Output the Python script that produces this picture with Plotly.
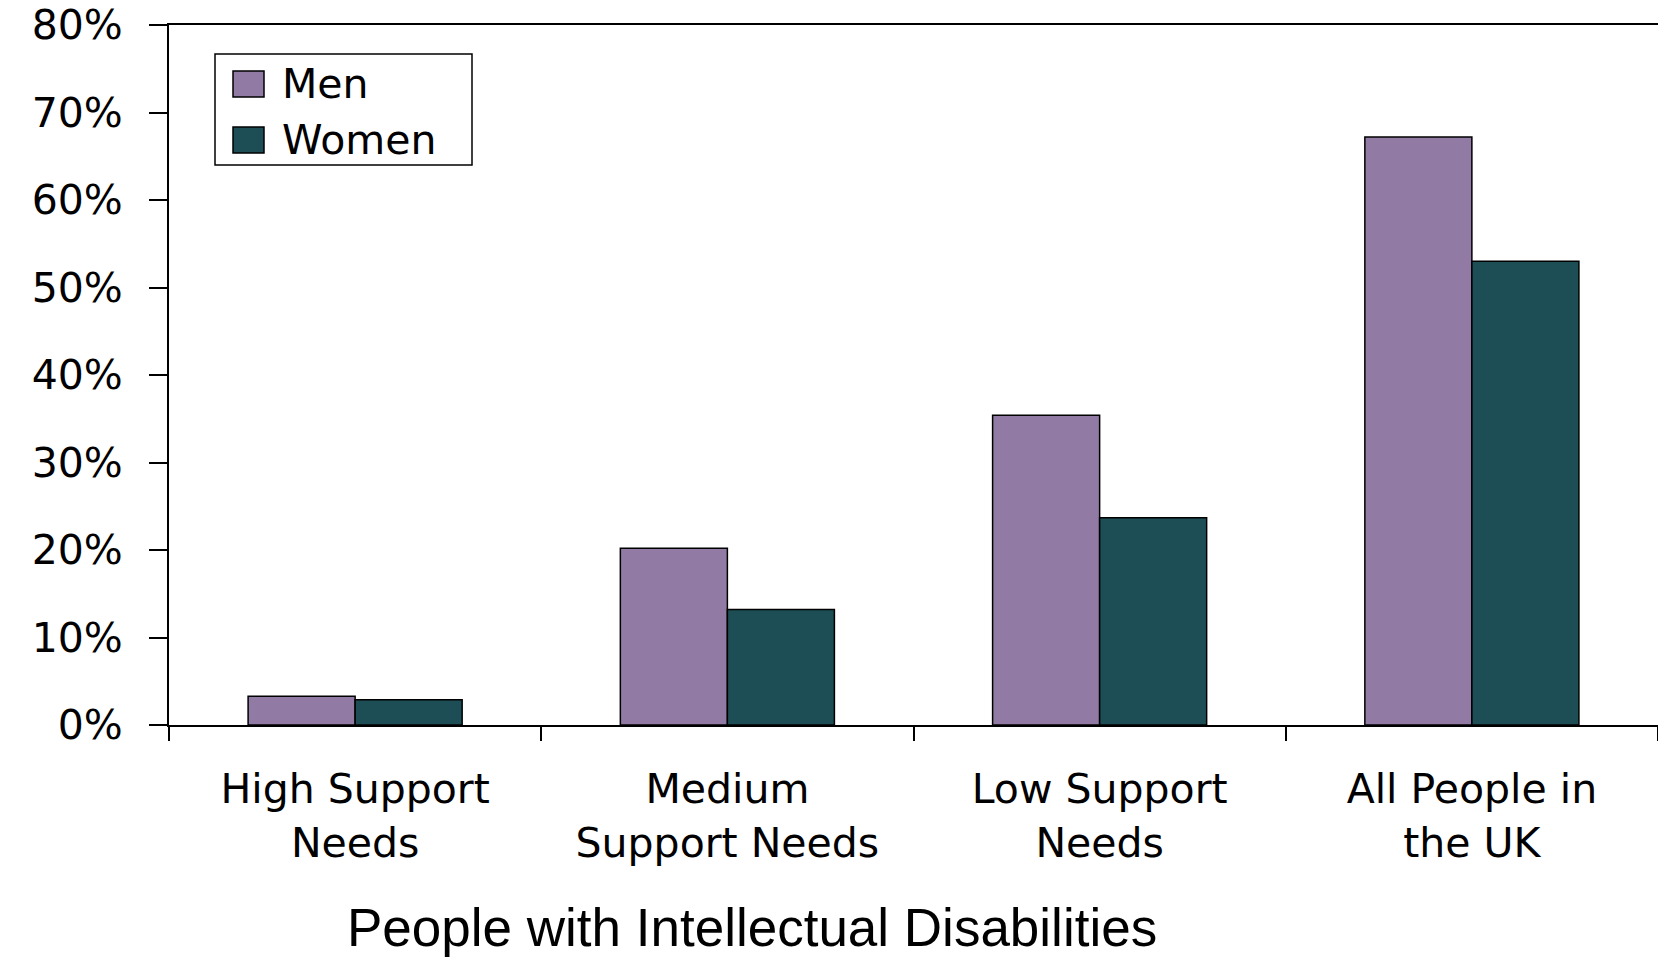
import plotly.graph_objects as go

categories = ["High Support<br>Needs", "Medium<br>Support Needs", "Low Support<br>Needs", "All People in<br>the UK"]
men = [3.3, 20.2, 35.4, 67.2]
women = [2.9, 13.2, 23.7, 53.0]
series_names = ["Men", "Women"]
y_ticks = [0, 10, 20, 30, 40, 50, 60, 70, 80]
y_tick_labels = [f"{v}%" for v in y_ticks]
x_title = "People with Intellectual Disabilities"

MEN_COLOR = "#917ba4"
WOMEN_COLOR = "#1e4e55"

W, H = 1658, 958
L, R, T, B = 169, 0, 25, 233
PW, PH = W - L - R, H - T - B

def px(x):
    return (x - L) / PW

def py(y):
    return (H - B - y) / PH

fig = go.Figure()
fig.add_trace(go.Bar(x=categories, y=men, name=series_names[0],
                     marker=dict(color=MEN_COLOR, line=dict(color="black", width=1.5)),
                     showlegend=False))
fig.add_trace(go.Bar(x=categories, y=women, name=series_names[1],
                     marker=dict(color=WOMEN_COLOR, line=dict(color="black", width=1.5)),
                     showlegend=False))

tick_font = dict(family="DejaVu Sans", size=41, color="black")

fig.update_layout(
    width=W, height=H,
    margin=dict(l=L, r=R, t=T, b=B, pad=0),
    paper_bgcolor="white", plot_bgcolor="white",
    barmode="group", bargap=0.425, bargroupgap=0,
    xaxis=dict(
        showline=True, linecolor="black", linewidth=2, mirror=True,
        ticks="outside", tickson="boundaries", ticklen=14, tickwidth=1.5, tickcolor="black",
        tickfont=tick_font, ticklabelstandoff=27, showgrid=False, zeroline=False,
    ),
    yaxis=dict(
        range=[0, 80], tickvals=y_ticks, ticktext=y_tick_labels,
        showline=True, linecolor="black", linewidth=2,
        ticks="outside", ticklen=18, tickwidth=2, tickcolor="black",
        tickfont=tick_font, ticklabelstandoff=18, showgrid=False, zeroline=False,
    ),
    font=dict(family="DejaVu Sans", color="black"),
)

# axis title as annotation
fig.add_annotation(text=x_title, xref="paper", yref="paper",
                   x=px(752), y=py(927), xanchor="center", yanchor="middle",
                   showarrow=False, font=dict(family="Liberation Sans", size=53, color="black"))

# legend box
shapes = [
    dict(type="rect", xref="paper", yref="paper", x0=px(215), x1=px(472), y0=py(54), y1=py(165),
         line=dict(color="black", width=1.5), fillcolor="white", layer="above"),
]
legend_items = [(series_names[0], MEN_COLOR, 71, 97, 84), (series_names[1], WOMEN_COLOR, 127, 153, 140)]
for name, color, y0, y1, yc in legend_items:
    shapes.append(dict(type="rect", xref="paper", yref="paper", x0=px(233), x1=px(264),
                       y0=py(y0), y1=py(y1), line=dict(color="black", width=1.5),
                       fillcolor=color, layer="above"))
    fig.add_annotation(text=name, xref="paper", yref="paper", x=px(280), y=py(yc),
                       xanchor="left", yanchor="middle", showarrow=False,
                       font=dict(family="DejaVu Sans", size=41, color="black"))
fig.update_layout(shapes=shapes)

fig.write_html("out.html")
